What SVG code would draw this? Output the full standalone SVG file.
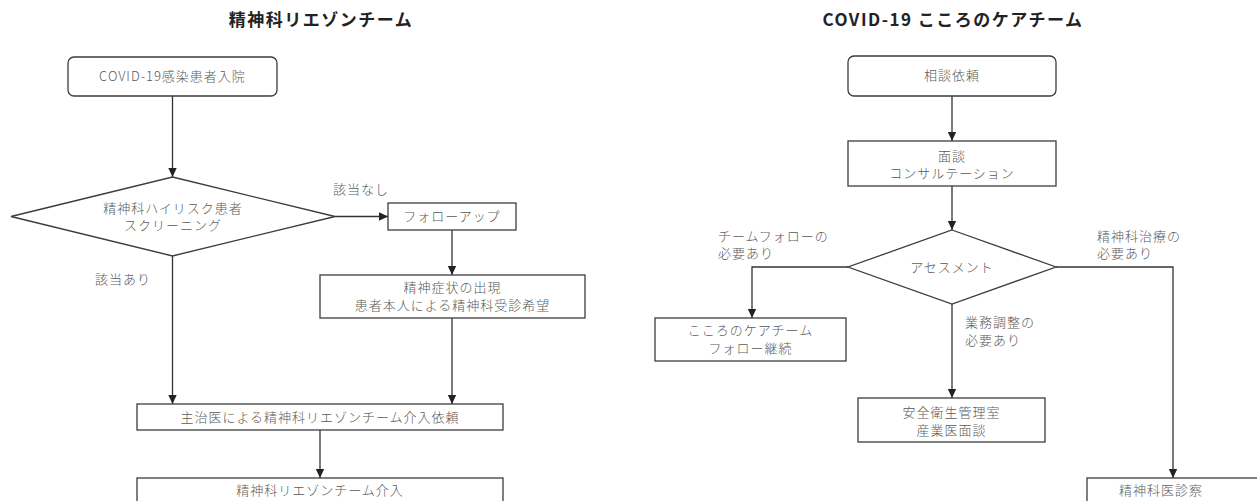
<svg xmlns="http://www.w3.org/2000/svg" width="1257" height="501" viewBox="0 0 1257 501">
<style>
.bg{fill:#ffffff}
.box{fill:#ffffff;stroke:#3c3c3c;stroke-width:1.3}
.t{font-family:"Noto Sans CJK JP","Noto Sans",sans-serif;font-size:13px;font-weight:300;fill:#5a5a5a;letter-spacing:1px}
.c{text-anchor:middle}
.title{font-family:"Noto Sans CJK JP","Noto Sans",sans-serif;font-size:17px;font-weight:bold;fill:#222222;text-anchor:middle;letter-spacing:1.5px}
.ln{fill:none;stroke:#333333;stroke-width:1.3}
</style>
<defs>
<marker id="arr" markerUnits="userSpaceOnUse" markerWidth="10" markerHeight="10" refX="9" refY="5" orient="auto">
<path d="M0,0.8 L9,5 L0,9.2 Z" fill="#222222"/>
</marker>
</defs>
<rect class="bg" x="0" y="0" width="1257" height="501"/>

<g id="titles">
<text class="title" x="321" y="26">精神科リエゾンチーム</text>
<text class="title" x="953" y="26">COVID-19 こころのケアチーム</text>
</g>

<g id="connectors">
<path class="ln" d="M172.5,96 L172.5,177" marker-end="url(#arr)"/>
<path class="ln" d="M335,216.5 L388,216.5" marker-end="url(#arr)"/>
<path class="ln" d="M452,230 L452,275" marker-end="url(#arr)"/>
<path class="ln" d="M172.5,256 L172.5,404" marker-end="url(#arr)"/>
<path class="ln" d="M452,318 L452,404" marker-end="url(#arr)"/>
<path class="ln" d="M320,430 L320,478" marker-end="url(#arr)"/>
<path class="ln" d="M952,96 L952,141" marker-end="url(#arr)"/>
<path class="ln" d="M952,186 L952,230" marker-end="url(#arr)"/>
<path class="ln" d="M848,267 L752,267 L752,318" marker-end="url(#arr)"/>
<path class="ln" d="M952,304 L952,398" marker-end="url(#arr)"/>
<path class="ln" d="M1056,267 L1173,267 L1173,478" marker-end="url(#arr)"/>
</g>

<g id="labels">
<text class="t" x="333" y="193.5">該当なし</text>
<text class="t" x="95" y="283.5">該当あり</text>
<text class="t" x="718" y="240.5">チームフォローの</text>
<text class="t" x="718" y="257.5">必要あり</text>
<text class="t" x="1097" y="240.5">精神科治療の</text>
<text class="t" x="1097" y="257.5">必要あり</text>
<text class="t" x="965" y="326.5">業務調整の</text>
<text class="t" x="965" y="344.5">必要あり</text>
</g>

<g id="n-admission">
<rect class="box" x="68" y="57" width="209" height="39" rx="6" ry="6"/>
<text class="t c" x="172.5" y="80.5">COVID-19感染患者入院</text>
</g>

<g id="n-screening">
<polygon class="box" points="172.5,177 335,216.5 172.5,256 11,216.5"/>
<text class="t c" x="173" y="213">精神科ハイリスク患者</text>
<text class="t c" x="173" y="230">スクリーニング</text>
</g>

<g id="n-followup">
<rect class="box" x="388" y="203" width="128" height="27"/>
<text class="t c" x="452" y="221">フォローアップ</text>
</g>

<g id="n-symptoms">
<rect class="box" x="320" y="275" width="265" height="43"/>
<text class="t c" x="452.5" y="291.5">精神症状の出現</text>
<text class="t c" x="452.5" y="309.5">患者本人による精神科受診希望</text>
</g>

<g id="n-request">
<rect class="box" x="137" y="404" width="366" height="26"/>
<text class="t c" x="320" y="421.5">主治医による精神科リエゾンチーム介入依頼</text>
</g>

<g id="n-intervention">
<rect class="box" x="137" y="478" width="366" height="30"/>
<text class="t c" x="320" y="495">精神科リエゾンチーム介入</text>
</g>

<g id="n-consult">
<rect class="box" x="848" y="56" width="208" height="40" rx="6" ry="6"/>
<text class="t c" x="952" y="79.5">相談依頼</text>
</g>

<g id="n-interview">
<rect class="box" x="848" y="141" width="208" height="45"/>
<text class="t c" x="952" y="161">面談</text>
<text class="t c" x="952" y="177.5">コンサルテーション</text>
</g>

<g id="n-assessment">
<polygon class="box" points="952,230 1056,267 952,304 848,267"/>
<text class="t c" x="952" y="271.5">アセスメント</text>
</g>

<g id="n-carefollow">
<rect class="box" x="655" y="318" width="191" height="43"/>
<text class="t c" x="750.5" y="334.5">こころのケアチーム</text>
<text class="t c" x="750.5" y="352.5">フォロー継続</text>
</g>

<g id="n-safety">
<rect class="box" x="858" y="398" width="187" height="44"/>
<text class="t c" x="951.5" y="416.5">安全衛生管理室</text>
<text class="t c" x="951.5" y="434.5">産業医面談</text>
</g>

<g id="n-psychiatrist">
<rect class="box" x="1087" y="478" width="175" height="30"/>
<text class="t c" x="1161" y="495">精神科医診察</text>
</g>
</svg>
